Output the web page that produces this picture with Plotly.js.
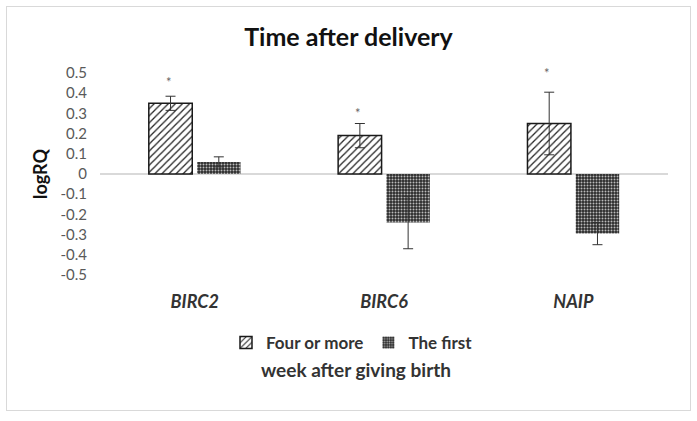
<!DOCTYPE html>
<html><head><meta charset="utf-8">
<script src="https://cdn.plot.ly/plotly-3.0.1.min.js"></script>
<style>
body{margin:0;background:#fff;}
#frame{position:absolute;left:6px;top:6px;width:683px;height:403px;border:1px solid #d9d9d9;pointer-events:none;z-index:5;}
#chart{position:absolute;left:0;top:0;width:697px;height:421px;}
</style></head>
<body>
<div id="chart"></div><div id="frame"></div>
<script>
const genes = ["BIRC2", "BIRC6", "NAIP"];
const fourOrMore = [0.35, 0.19, 0.25];
const fourOrMoreErr = [0.035, 0.06, 0.155];
const theFirst = [0.06, -0.24, -0.295];
const theFirstErr = [0.025, 0.13, 0.055];
const starHeights = [0.455, 0.30, 0.50];
const yTicks = [0.5,0.4,0.3,0.2,0.1,0,-0.1,-0.2,-0.3,-0.4,-0.5];

const font = "Lato, 'Open Sans', sans-serif";

const traces = [
  {
    type: "bar", name: "Four or more", x: genes, y: fourOrMore,
    marker: {color: "#ffffff", line: {color: "#1a1a1a", width: 1.5},
      pattern: {shape: "/", fgcolor: "#222222", bgcolor: "#ffffff", size: 5, solidity: 0.25}},
    error_y: {type: "data", array: fourOrMoreErr, visible: true, color: "#333333", thickness: 1, width: 5}
  },
  {
    type: "bar", name: "The first", x: genes, y: theFirst,
    marker: {color: "#333333", line: {color: "#333333", width: 0},
      pattern: {shape: ".", fgcolor: "#bbbbbb", bgcolor: "#2a2a2a", size: 3, solidity: 0.35}},
    error_y: {type: "data", array: theFirstErr, visible: true, color: "#333333", thickness: 1, width: 5}
  }
];

const plotTop = 73, plotBottom = 146, plotLeft = 100, plotRight = 29, W = 697, H = 421;
const plotH = H - plotTop - plotBottom;
const plotW = W - plotLeft - plotRight;
const pxToPaperY = px => (H - plotBottom - px) / plotH;
const pxToPaperX = px => (px - plotLeft) / plotW;

const annotations = genes.map((g, i) => ({
  x: g, y: starHeights[i], xref: "x", yref: "y", text: "*", showarrow: false,
  xshift: -26, font: {family: font, size: 13, color: "#666666"}
}));
annotations.push({
  x: pxToPaperX(356), y: pxToPaperY(369), xref: "paper", yref: "paper", yanchor: "middle", xanchor: "center",
  text: "<b>week after giving birth</b>",
  showarrow: false, font: {family: font, size: 19, color: "#333333"}
});

const layout = {
  width: W, height: H,
  margin: {l: plotLeft, r: plotRight, t: plotTop, b: plotBottom, autoexpand: false},
  paper_bgcolor: "#ffffff", plot_bgcolor: "#ffffff",
  title: {text: "<b>Time after delivery</b>", x: 0.5, xref: "container", xanchor: "center",
    y: 1 - 37 / H, yref: "container", yanchor: "middle",
    font: {family: font, size: 25, color: "#111111"}},
  barmode: "group", bargap: 0.49, bargroupgap: 0.1,
  xaxis: {range: [-0.5, 2.5], showgrid: false, showline: false, zeroline: false, ticks: "",
    ticklabelstandoff: 14,
    tickfont: {family: font, size: 18, color: "#333333", style: "italic", weight: "bold"}},
  yaxis: {range: [-0.5, 0.5], tickvals: yTicks, ticktext: yTicks.map(v => String(v)),
    showgrid: false, showline: false, zeroline: true, zerolinecolor: "#d9d9d9", zerolinewidth: 1.2,
    ticks: "", ticklabelstandoff: 12,
    tickfont: {family: font, size: 15, color: "#595959"},
    title: {text: "<b>logRQ</b>", standoff: 8, font: {family: font, size: 18, color: "#111111"}}},
  showlegend: true,
  legend: {orientation: "h", x: pxToPaperX(352), xanchor: "center", y: pxToPaperY(343), yanchor: "middle",
    font: {family: font, size: 17, color: "#333333", weight: "bold"}, itemwidth: 30},
  annotations: annotations
};

Plotly.newPlot("chart", traces, layout, {displayModeBar: false, staticPlot: true});
</script>
</body></html>
